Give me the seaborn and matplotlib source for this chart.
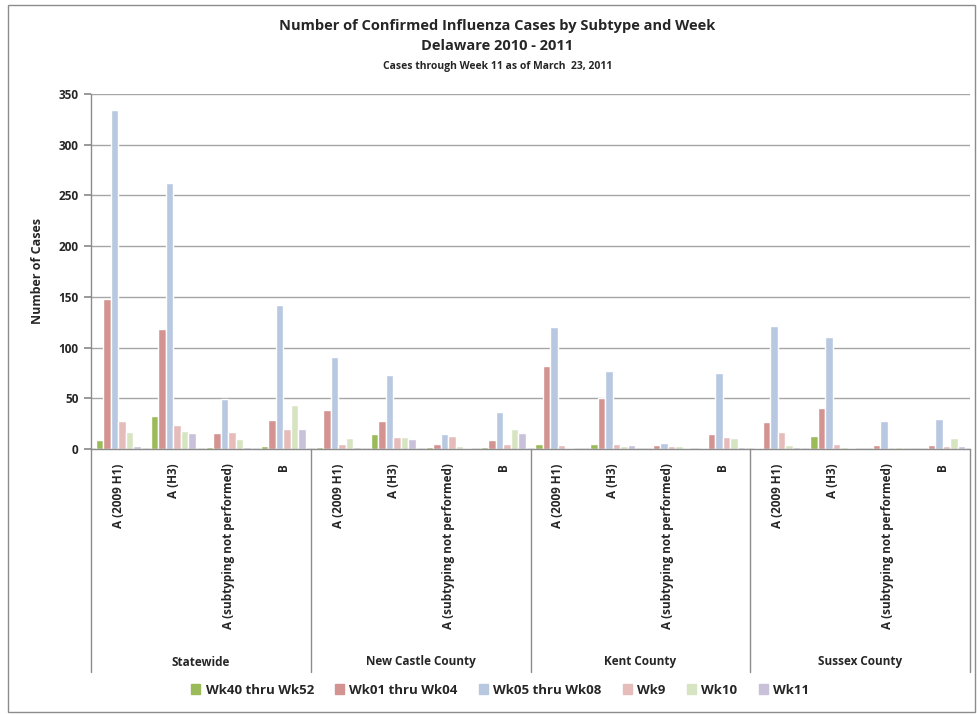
import pandas as pd
import numpy as np
import matplotlib
matplotlib.use("Agg")
import matplotlib.pyplot as plt
from matplotlib.patches import Rectangle
import seaborn as sns

sns.set_theme(style="white")
plt.rcParams["font.family"] = ["Open Sans", "DejaVu Sans"]

# ---------------------------------------------------------------
# DATA
# ---------------------------------------------------------------
regions = ["Statewide", "New Castle County", "Kent County", "Sussex County"]
subtypes = ["A (2009 H1)", "A (H3)", "A (subtyping not performed)", "B"]
weeks = ["Wk40 thru Wk52", "Wk01 thru Wk04", "Wk05 thru Wk08", "Wk9", "Wk10", "Wk11"]

wk40_52 = [9, 33, 2, 3, 2, 15, 2, 2, 5, 5, 0, 1, 1, 13, 0, 0]
wk01_04 = [148, 118, 16, 29, 38, 28, 5, 9, 82, 50, 4, 15, 27, 40, 4, 4]
wk05_08 = [334, 262, 49, 142, 91, 73, 15, 36, 120, 77, 6, 75, 121, 110, 28, 30]
wk9 = [28, 24, 17, 20, 5, 12, 13, 5, 4, 5, 3, 12, 17, 5, 0, 3]
wk10 = [17, 18, 10, 43, 11, 12, 3, 20, 1, 3, 3, 11, 4, 2, 2, 11]
wk11 = [3, 16, 2, 20, 2, 10, 1, 16, 0, 4, 1, 2, 2, 1, 0, 3]

colors = ["#9BBB59", "#D39391", "#B9C8E1", "#E6BCBB", "#D7E4C2", "#C9C1DA"]

# long table for seaborn
cats = [f"{r}|{s}" for r in regions for s in subtypes]
series = [wk40_52, wk01_04, wk05_08, wk9, wk10, wk11]
rows = []
for wk, vals in zip(weeks, series):
    for c, v in zip(cats, vals):
        rows.append({"cat": c, "week": wk, "cases": v})
df = pd.DataFrame(rows)

# ---------------------------------------------------------------
# PLOT
# ---------------------------------------------------------------
fig = plt.figure(figsize=(9.77, 7.15), dpi=100)
ax = fig.add_axes([91 / 977, 1 - 449 / 715, 879 / 977, 355 / 715])

sns.barplot(data=df, x="cat", y="cases", hue="week", order=cats, hue_order=weeks,
            palette=colors, width=0.82, saturation=1, ax=ax, legend=False)

ax.set_ylim(0, 350)
ax.set_xlim(-0.5, len(cats) - 0.5)
ax.set_yticks(np.arange(0, 351, 50))
ax.set_yticklabels([str(v) for v in range(0, 351, 50)], fontsize=8.5, fontweight="bold")
ax.yaxis.grid(True, color="#A6A6A6", linewidth=1)
ax.set_axisbelow(True)
ax.tick_params(axis="y", length=5, color="#8C8C8C", direction="out", pad=4, left=True)
ax.tick_params(axis="x", length=0)
for side in ["top", "right"]:
    ax.spines[side].set_visible(False)
for side in ["left", "bottom"]:
    ax.spines[side].set_color("#8C8C8C")
    ax.spines[side].set_linewidth(1)

ax.set_xlabel("")
ax.set_ylabel("Number of Cases", fontsize=9, fontweight="bold", labelpad=10)

# subtype labels (rotated) and group labels
ax.set_xticks(range(len(cats)))
ax.set_xticklabels([])
for i, c in enumerate(cats):
    ax.text(i, -0.04, c.split("|")[1], rotation=90, ha="center", va="top",
            fontsize=8.5, fontweight="bold", transform=ax.get_xaxis_transform())
for g, r in enumerate(regions):
    ax.text(g * 4 + 1.5, -0.6, r, ha="center", va="center",
            fontsize=8.5, fontweight="bold", transform=ax.get_xaxis_transform())
for g in range(len(regions) + 1):
    ax.plot([g * 4 - 0.5, g * 4 - 0.5], [0, -0.628], color="#8C8C8C", lw=1,
            transform=ax.get_xaxis_transform(), clip_on=False)

# titles
fig.text(0.509, 1 - 26 / 715, "Number of Confirmed Influenza Cases by Subtype and Week",
         ha="center", va="center", fontsize=10.5, fontweight="bold")
fig.text(0.509, 1 - 46 / 715, "Delaware 2010 - 2011",
         ha="center", va="center", fontsize=10.5, fontweight="bold")
fig.text(0.509, 1 - 67 / 715, "Cases through Week 11 as of March  23, 2011",
         ha="center", va="center", fontsize=7.5, fontweight="bold")

# legend
handles = [Rectangle((0, 0), 1, 1, color=c) for c in colors]
fig.legend(handles, weeks, loc="center", bbox_to_anchor=(0.512, 1 - 690 / 715), ncol=6,
           frameon=False, prop={"size": 9.5, "weight": "bold"}, handlelength=0.7,
           handleheight=0.7, handletextpad=0.4, columnspacing=1.6)

# outer chart border
fig.add_artist(Rectangle((8 / 977, 3 / 715), 967 / 977, 707 / 715, transform=fig.transFigure,
                         fill=False, edgecolor="#8C8C8C", linewidth=1))

plt.savefig("out.png", dpi=100)
plt.close()
